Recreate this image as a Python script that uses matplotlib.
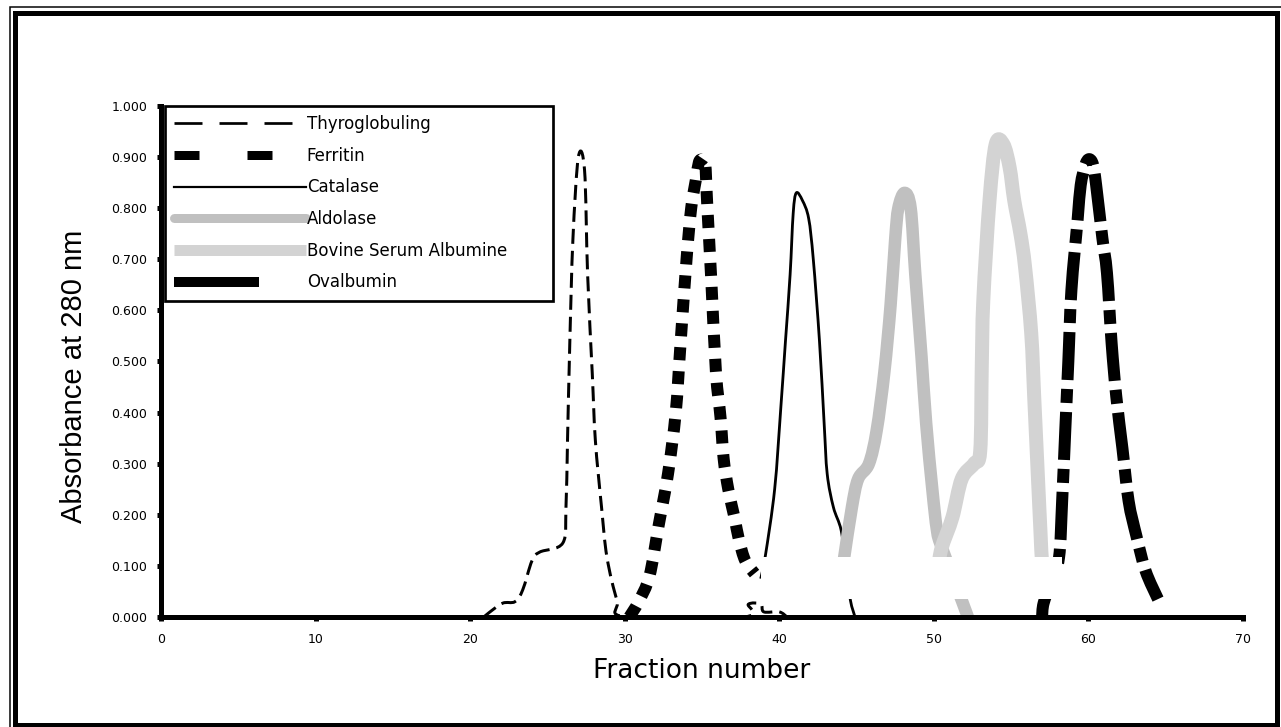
import matplotlib

matplotlib.use("Agg")
import matplotlib.pyplot as plt
import numpy as np
from matplotlib.lines import Line2D
from matplotlib.patches import PathPatch, Rectangle
from matplotlib.path import Path
from matplotlib.ticker import FormatStrFormatter, MultipleLocator

W, H, DPI = 1281, 727, 100
PT = 72 / DPI  # points per pixel

# --- elution profiles (fraction number, A280) ---
thyro_x = [20.9, 21.2, 22.1, 22.9, 23.4, 24.0, 24.5, 26.0, 26.2, 26.3, 26.45,
           26.65, 27.0, 27.4, 27.6, 27.9, 28.1, 28.5, 28.85, 29.5, 30.1,
           37.7, 38.0, 38.8, 39.0, 40.0, 40.5]
thyro_y = [0.0, 0.008, 0.027, 0.03, 0.053, 0.11, 0.127, 0.145, 0.215, 0.346,
           0.54, 0.74, 0.9, 0.875, 0.67, 0.477, 0.346, 0.215, 0.117, 0.033,
           0.0, 0.0, 0.025, 0.025, 0.01, 0.01, 0.0]

ferr_x = [30.3, 30.9, 31.6, 32.2, 32.8, 33.3, 33.6, 34.0, 34.3, 34.6, 34.8,
          35.0, 35.2, 35.35, 35.6, 35.9, 36.2, 36.4, 36.7, 37.1, 37.4, 37.8, 38.4]
ferr_y = [0.0, 0.03, 0.08, 0.18, 0.28, 0.40, 0.53, 0.70, 0.80, 0.855, 0.89,
          0.895, 0.89, 0.80, 0.66, 0.48, 0.39, 0.31, 0.25, 0.195, 0.15, 0.11, 0.085]

cat_x = [38.8, 39.1, 39.7, 40.1, 40.4, 40.7, 40.9, 41.1, 41.5, 41.9, 42.2,
         42.6, 42.9, 43.1, 43.5, 44.0, 44.3, 44.6, 44.9]
cat_y = [0.075, 0.12, 0.25, 0.41, 0.54, 0.67, 0.79, 0.83, 0.815, 0.78, 0.70,
         0.54, 0.38, 0.28, 0.215, 0.17, 0.10, 0.033, 0.0]

aldo_x = [44.0, 44.2, 44.7, 45.1, 45.8, 46.3, 46.8, 47.2, 47.5, 47.7, 48.1,
          48.5, 48.8, 49.2, 49.5, 49.9, 50.2, 50.5, 51.8, 52.2]
aldo_y = [0.08, 0.117, 0.215, 0.27, 0.30, 0.365, 0.48, 0.61, 0.74, 0.80, 0.83,
          0.80, 0.67, 0.51, 0.38, 0.25, 0.17, 0.137, 0.033, 0.0]

bsa_x = [50.3, 50.5, 51.2, 51.8, 52.6, 53.0, 53.1, 53.2, 53.6, 54.0, 54.5,
         54.9, 55.2, 55.6, 55.9, 56.3, 56.5, 56.7, 56.9, 57.0, 57.2]
bsa_y = [0.10, 0.135, 0.195, 0.27, 0.30, 0.325, 0.49, 0.62, 0.815, 0.925,
         0.925, 0.88, 0.815, 0.75, 0.685, 0.555, 0.425, 0.295, 0.165, 0.108, 0.05]

oval_x = [57.0, 57.1, 57.6, 58.1, 58.3, 58.5, 58.7, 58.9, 59.3, 59.5, 59.8,
          60.05, 60.3, 60.5, 60.9, 61.2, 61.5, 61.8, 62.2, 62.6, 63.1, 63.7, 64.5]
oval_y = [0.0, 0.027, 0.07, 0.117, 0.227, 0.364, 0.50, 0.64, 0.777, 0.845,
          0.885, 0.896, 0.885, 0.845, 0.742, 0.673, 0.536, 0.432, 0.33, 0.227,
          0.159, 0.09, 0.035]

names = ["Thyroglobuling", "Ferritin", "Catalase", "Aldolase",
         "Bovine Serum Albumine", "Ovalbumin"]
xticks = [0, 10, 20, 30, 40, 50, 60, 70]

# blank strip in the original export that hides the low part of the peaks
mask_x = (38.8, 58.3)
mask_y = (0.035, 0.117)

plt.rcParams["lines.scale_dashes"] = False
plt.rcParams["font.family"] = ["DejaVu Sans"]


def px_box(x0, y0, x1, y1):
    """pixel box (top-left origin) -> figure fraction rect"""
    return (x0 / W, 1 - y1 / H, (x1 - x0) / W, (y1 - y0) / H)


def smooth_path(xs, ys):
    # Excel-style "smoothed line": Catmull-Rom through the points, as cubic beziers
    pts = np.column_stack([xs, ys])
    ext = np.vstack([pts[0], pts, pts[-1]])
    verts = [pts[0]]
    for i in range(len(pts) - 1):
        p0, p1, p2, p3 = ext[i], ext[i + 1], ext[i + 2], ext[i + 3]
        verts += [p1 + (p2 - p0) / 6, p2 - (p3 - p1) / 6, p2]
    codes = [Path.MOVETO] + [Path.CURVE4] * (3 * (len(pts) - 1))
    return Path(verts, codes)


fig = plt.figure(figsize=(W / DPI, H / DPI), dpi=DPI)
fig.patch.set_facecolor("white")
ax = fig.add_axes(px_box(161, 106, 1243, 617))

# plot styles (widths given in pixels, converted to points)
styles = [
    dict(edgecolor="black", lw=3 * PT, linestyle=(0, (15 * PT, 7 * PT)),
         capstyle="butt"),
    dict(edgecolor="black", lw=12 * PT, linestyle=(0, (13 * PT, 11 * PT)),
         capstyle="butt"),
    dict(edgecolor="black", lw=2.8 * PT, capstyle="butt"),
    dict(edgecolor="#c0c0c0", lw=12.5 * PT, capstyle="round"),
    dict(edgecolor="#d3d3d3", lw=14 * PT, capstyle="butt"),
    dict(edgecolor="black", lw=12 * PT,
         linestyle=(0, (48 * PT, 9 * PT, 14 * PT, 9 * PT)), capstyle="butt"),
]
series = [(thyro_x, thyro_y), (ferr_x, ferr_y), (cat_x, cat_y),
          (aldo_x, aldo_y), (bsa_x, bsa_y), (oval_x, oval_y)]
for (xs, ys), st in zip(series, styles):
    ax.add_patch(PathPatch(smooth_path(xs, ys), fill=False,
                           joinstyle="round", zorder=2, **st))

ax.add_patch(Rectangle((mask_x[0], mask_y[0]), mask_x[1] - mask_x[0],
                       mask_y[1] - mask_y[0], facecolor="white",
                       edgecolor="none", zorder=2.2))

ax.set_xlim(0, 70)
ax.set_ylim(0, 1)
ax.set_xticks(xticks)
ax.yaxis.set_major_locator(MultipleLocator(0.1))
ax.yaxis.set_major_formatter(FormatStrFormatter("%.3f"))
for side in ("top", "right"):
    ax.spines[side].set_visible(False)
for side in ("left", "bottom"):
    ax.spines[side].set_linewidth(5 * PT)
ax.tick_params(direction="out", length=3, width=5 * PT, labelsize=9)
ax.tick_params(axis="y", pad=7)
ax.tick_params(axis="x", pad=8.5)

ax.set_xlabel("Fraction number", fontsize=19)
ax.xaxis.set_label_coords(0.5, -0.08)
ax.set_ylabel("Absorbance at 280 nm", fontsize=21,
              family=["Liberation Sans", "DejaVu Sans"])
ax.yaxis.set_label_coords(-0.0675, 0.47)

# legend swatches are drawn shorter/thinner than the plot lines
handles = [
    Line2D([], [], color="black", lw=2.7 * PT, dashes=(28 * PT, 17 * PT),
           dash_capstyle="butt"),
    Line2D([], [], color="black", lw=9 * PT, dashes=(25 * PT, 48 * PT),
           dash_capstyle="butt"),
    Line2D([], [], color="black", lw=2.2 * PT),
    Line2D([], [], color="#c0c0c0", lw=9 * PT, solid_capstyle="round"),
    Line2D([], [], color="#d3d3d3", lw=11 * PT, solid_capstyle="butt"),
    Line2D([], [], color="black", lw=10 * PT, dashes=(85 * PT, 100 * PT),
           dash_capstyle="butt"),
]
leg = ax.legend(handles, names, loc="upper left",
                bbox_to_anchor=(4 / 1082, 0.6106, 388 / 1082, 0.3894),
                mode="expand", borderaxespad=0, fancybox=False,
                edgecolor="black", framealpha=1, fontsize=12,
                handlelength=7.9, handletextpad=0.05, labelspacing=0.82,
                borderpad=0.55)
leg.get_frame().set_linewidth(2.7 * PT)

# double border round the whole chart area
fig.add_artist(Rectangle(px_box(10, 7, 1290, 735)[:2],
                         *px_box(10, 7, 1290, 735)[2:],
                         transform=fig.transFigure, fill=False,
                         edgecolor="black", lw=1.5 * PT))
fig.add_artist(Rectangle(px_box(15, 12.5, 1277, 725)[:2],
                         *px_box(15, 12.5, 1277, 725)[2:],
                         transform=fig.transFigure, fill=False,
                         edgecolor="black", lw=5 * PT))

fig.savefig("out.png", dpi=DPI)
